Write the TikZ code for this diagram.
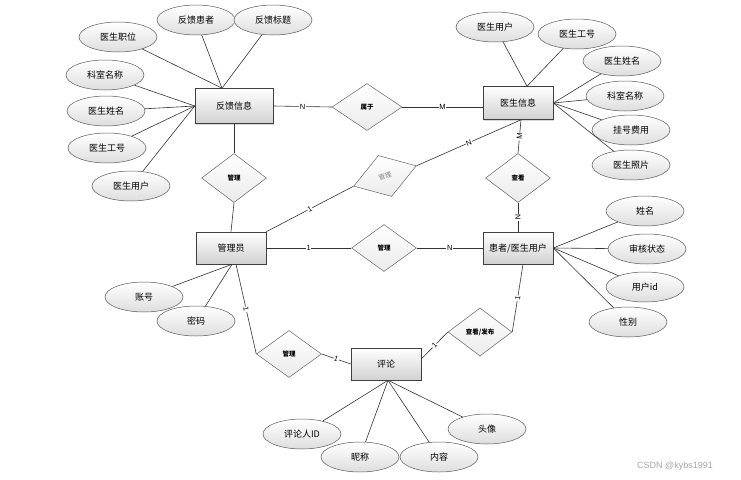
\documentclass[tikz,border=0pt]{standalone}
\usepackage{fontspec}
\newfontfamily\cjk{Noto Sans CJK SC}
\newfontfamily\lab{Liberation Sans}
\usetikzlibrary{shapes.geometric,calc,shadows}
\begin{document}
\begin{tikzpicture}[x=1pt,y=-1pt,
  ent/.style={draw=black!75, line width=0.6pt, top color=white, bottom color=black!18,
    minimum width=70pt, minimum height=32pt, inner sep=0pt,
    font=\cjk\fontsize{9}{9}\selectfont,
    drop shadow={shadow xshift=1.2pt,shadow yshift=-1.2pt,opacity=0.3}},
  attr/.style={ellipse, draw=black!65, line width=0.5pt, top color=white, bottom color=black!13,
    minimum width=78pt, minimum height=30pt, inner sep=0pt,
    font=\cjk\fontsize{9}{9}\selectfont},
  rel/.style={diamond, draw=black!60, line width=0.5pt, top color=white, bottom color=black!8,
    minimum width=65pt, minimum height=48pt, inner sep=0pt,
    font=\cjk\bfseries\fontsize{6.5}{6.5}\selectfont},
  link/.style={draw=black!80, line width=0.6pt},
  card/.style={font=\lab\fontsize{7.5}{7.5}\selectfont, fill=white, inner sep=0.6pt, sloped}
]
\useasboundingbox[fill=white] (0,0) rectangle (741,479);

% entities
\node[ent, minimum width=78pt, minimum height=35pt] (fk) at (234,106) {反馈信息};
\node[ent, minimum height=33pt] (ys) at (518,103) {医生信息};
\node[ent] (gly) at (231,248) {管理员};
\node[ent] (hz) at (518,248) {患者/医生用户};
\node[ent] (pl) at (386,364) {评论};

% relationships
\node[rel, minimum height=49pt] (d1) at (234,178) {管理};
\node[rel, minimum width=70pt, minimum height=47pt] (d2) at (367,107) {属于};
\node[rel, minimum width=66pt, minimum height=43pt, rotate=18, text=black!50,
      font=\cjk\fontsize{6.5}{6.5}\selectfont] (d3) at (385,176) {管理};
\node[rel, minimum height=49pt] (d4) at (518,178) {查看};
\node[rel, minimum height=47pt] (d5) at (384,248) {管理};
\node[rel, minimum width=64pt] (d6) at (480,332) {查看/发布};
\node[rel, minimum height=47pt] (d7) at (289,354) {管理};

% attributes of 反馈信息
\node[attr] (a1) at (118,37) {医生职位};
\node[attr] (a2) at (196,20) {反馈患者};
\node[attr] (a3) at (273,20) {反馈标题};
\node[attr] (a4) at (105,75) {科室名称};
\node[attr] (a5) at (106,111) {医生姓名};
\node[attr] (a6) at (107,148) {医生工号};
\node[attr] (a7) at (131,186) {医生用户};
% attributes of 医生信息
\node[attr] (b1) at (495,27) {医生用户};
\node[attr] (b2) at (577,34) {医生工号};
\node[attr] (b3) at (622,61) {医生姓名};
\node[attr] (b4) at (625,96) {科室名称};
\node[attr] (b5) at (631,130) {挂号费用};
\node[attr] (b6) at (631,165) {医生照片};
% attributes of 患者/医生用户
\node[attr] (c1) at (645,211) {姓名};
\node[attr] (c2) at (647,249) {审核状态};
\node[attr] (c3) at (645,287) {用户id};
\node[attr] (c4) at (628,322) {性别};
% attributes of 管理员
\node[attr] (e1) at (144,297) {账号};
\node[attr] (e2) at (196,321) {密码};
% attributes of 评论
\node[attr] (f1) at (302,434) {评论人ID};
\node[attr] (f2) at (360,457) {昵称};
\node[attr] (f3) at (439,457) {内容};
\node[attr] (f4) at (487,429) {头像};

% junction points on entity borders
\coordinate (fkT) at ($(fk.north)+(-12,0)$);
\coordinate (fkL) at (fk.west);
\coordinate (ysT) at ($(ys.north)+(9,0)$);
\coordinate (ysR) at (ys.east);
\coordinate (ysB) at ($(ys.south)+(3,0)$);
\coordinate (hzR) at (hz.east);
\coordinate (hzB) at ($(hz.south)+(5,0)$);
\coordinate (glyB) at ($(gly.south)+(1,0)$);
\coordinate (glyB2) at ($(gly.south)+(5,0)$);
\coordinate (plB) at ($(pl.south)+(2,0)$);
\coordinate (plE) at ($(pl.east)+(0,-5)$);

% attribute links
\foreach \n in {a1,a2,a3} \draw[link] (\n) -- (fkT);
\foreach \n in {a4,a5,a6,a7} \draw[link] (\n) -- (fkL);
\foreach \n in {b1,b2} \draw[link] (\n) -- (ysT);
\foreach \n in {b3,b4,b5,b6} \draw[link] (\n) -- (ysR);
\foreach \n in {c1,c2,c3,c4} \draw[link] (\n) -- (hzR);
\foreach \n in {e1,e2} \draw[link] (\n) -- (glyB);
\foreach \n in {f1,f2,f3,f4} \draw[link] (\n) -- (plB);

% relationship links
\draw[link] (fk.east) -- node[card]{N} (d2.west);
\draw[link] (d2.east) -- node[card]{M} (d2.east -| ys.west);
\draw[link] (fk.south) -- (d1.north);
\draw[link] (d1.south) -- (gly.north);
\draw[link] (gly.north east) -- node[card]{1} (d3.west);
\draw[link] (d3.east) -- node[card]{N} (ysB);
\draw[link] (ysB) -- node[card]{M} (d4.north);
\draw[link] (d4.south) -- node[card]{N} (hz.north);
\draw[link] (gly.east) -- node[card]{1} (d5.west);
\draw[link] (d5.east) -- node[card]{N} (hz.west);
\draw[link] (hzB) -- node[card]{1} (d6.east);
\draw[link] (d6.west) -- node[card]{1} (plE);
\draw[link] (glyB2) -- node[card]{1} (d7.west);
\draw[link] (d7.east) -- node[card]{1} (pl.west);

% watermark
\node[font=\lab\fontsize{9}{9}\selectfont, text=black!35, inner sep=0pt] (wm) at (675,466) {CSDN @kybs1991};
\end{tikzpicture}
\end{document}
